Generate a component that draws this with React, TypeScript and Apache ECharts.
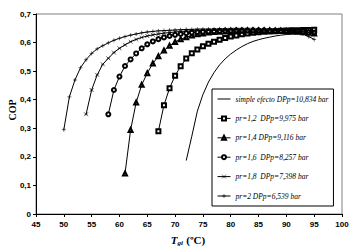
import React, { useEffect, useRef } from 'react';
import * as echarts from 'echarts';

// Generator temperature T_gi (ºC)
const tGi = [50, 51, 52, 53, 54, 55, 56, 57, 58, 59, 60, 61, 62, 63, 64, 65, 66, 67, 68, 69, 70, 71, 72, 73, 74, 75, 76, 77, 78, 79, 80, 81, 82, 83, 84, 85, 86, 87, 88, 89, 90, 91, 92, 93, 94, 95];

const seriesNames = [
  'simple efecto DPp=10,834 bar',
  'pr=1,2  DPp=9,975 bar',
  'pr=1,4 DPp=9,116 bar',
  'pr=1,6  DPp=8,257 bar',
  'pr=1,8  DPp=7,398 bar',
  'pr=2 DPp=6,539 bar',
];

const copSimple = [null, null, null, null, null, null, null, null, null, null, null, null, null, null, null, null, null, null, null, null, null, null,
  0.187, 0.272, 0.36, 0.418, 0.462, 0.495, 0.522, 0.543, 0.56, 0.574, 0.586, 0.596, 0.604, 0.61, 0.615, 0.619, 0.623, 0.626, 0.628, 0.63, 0.632, 0.633, 0.634, 0.635];

const copPr12 = [null, null, null, null, null, null, null, null, null, null, null, null, null, null, null, null, null,
  0.29, 0.381, 0.44, 0.484, 0.517, 0.544, 0.563, 0.576, 0.587, 0.596, 0.603, 0.61, 0.616, 0.621, 0.625, 0.629, 0.632, 0.634, 0.636, 0.638, 0.639, 0.64, 0.641, 0.642, 0.643, 0.643, 0.644, 0.644, 0.645];

const copPr14 = [null, null, null, null, null, null, null, null, null, null, null,
  0.142, 0.294, 0.39, 0.452, 0.493, 0.527, 0.552, 0.572, 0.589, 0.602, 0.612, 0.619, 0.625, 0.629, 0.632, 0.635, 0.637, 0.638, 0.639, 0.64, 0.641, 0.641, 0.642, 0.642, 0.642, 0.642, 0.642, 0.641, 0.641, 0.64, 0.639, 0.638, 0.636, 0.634, 0.632];

const copPr16 = [null, null, null, null, null, null, null, null,
  0.349, 0.434, 0.481, 0.518, 0.541, 0.562, 0.58, 0.594, 0.604, 0.612, 0.618, 0.623, 0.627, 0.63, 0.633, 0.635, 0.637, 0.638, 0.639, 0.64, 0.641, 0.642, 0.642, 0.643, 0.643, 0.643, 0.643, 0.643, 0.643, 0.642, 0.642, 0.641, 0.641, 0.64, 0.639, 0.638, 0.636, 0.634];

const copPr18 = [null, null, null, null,
  0.349, 0.434, 0.487, 0.524, 0.545, 0.565, 0.58, 0.592, 0.603, 0.611, 0.618, 0.623, 0.627, 0.63, 0.633, 0.635, 0.637, 0.639, 0.64, 0.641, 0.642, 0.643, 0.643, 0.644, 0.644, 0.644, 0.645, 0.645, 0.645, 0.645, 0.645, 0.644, 0.644, 0.644, 0.643, 0.643, 0.642, 0.641, 0.64, 0.638, 0.636, 0.633];

const copPr2 = [0.295, 0.41, 0.469, 0.512, 0.54, 0.562, 0.578, 0.589, 0.599, 0.608, 0.615, 0.621, 0.626, 0.63, 0.634, 0.637, 0.639, 0.641, 0.642, 0.643, 0.644, 0.645, 0.646, 0.646, 0.647, 0.647, 0.647, 0.647, 0.648, 0.648, 0.648, 0.648, 0.648, 0.647, 0.647, 0.647, 0.646, 0.646, 0.645, 0.644, 0.642, 0.64, 0.636, 0.63, 0.621, 0.611];

const xTicks = [45, 50, 55, 60, 65, 70, 75, 80, 85, 90, 95, 100];
const yTicks = [0, 0.1, 0.2, 0.3, 0.4, 0.5, 0.6, 0.7];

const plusPath = 'path://M0,5L10,5M5,0L5,10';
const crossPath = 'path://M1,1L9,9M9,1L1,9M2,5L8,5';

const symbols = ['none', 'emptyRect', 'emptyTriangle', 'emptyCircle', crossPath, plusPath];
const allValues = [copSimple, copPr12, copPr14, copPr16, copPr18, copPr2];

function toPairs(vals: (number | null)[]) {
  const out: [number, number][] = [];
  tGi.forEach((t, i) => {
    const v = vals[i];
    if (v !== null && v !== undefined) out.push([t, v]);
  });
  return out;
}

export default function App() {
  const ref = useRef<HTMLDivElement>(null);
  useEffect(() => {
    if (!ref.current) return;
    const chart = echarts.init(ref.current, undefined, { renderer: 'svg' });
    const series = allValues.map((vals, k) => ({
      name: seriesNames[k],
      type: 'line',
      data: toPairs(vals),
      symbol: symbols[k],
      symbolSize: k === 0 ? 0 : 4,
      showSymbol: k !== 0,
      lineStyle: { color: '#000', width: 1 },
      itemStyle: { color: '#000', borderColor: '#000', borderWidth: 0.6 },
      z: 2 + k,
    }));
    chart.setOption({
      animation: false,
      backgroundColor: '#fff',
      grid: {
        left: 36,
        right: 15,
        top: 14,
        bottom: 36,
        show: true,
        borderColor: '#808080',
        borderWidth: 1,
      },
      xAxis: {
        type: 'value',
        min: xTicks[0],
        max: xTicks[xTicks.length - 1],
        interval: 5,
        axisLine: { lineStyle: { color: '#000', width: 1 } },
        axisTick: { show: true, length: 3, lineStyle: { color: '#000' } },
        splitLine: { show: false },
        axisLabel: {
          color: '#000',
          fontSize: 8,
          fontWeight: 'bold',
          fontFamily: 'Liberation Sans',
          margin: 6,
        },
      },
      yAxis: {
        type: 'value',
        min: yTicks[0],
        max: yTicks[yTicks.length - 1],
        interval: 0.1,
        axisLine: { show: true, lineStyle: { color: '#000', width: 1 } },
        axisTick: { show: true, length: 3, lineStyle: { color: '#000' } },
        splitLine: { show: false },
        axisLabel: {
          color: '#000',
          fontSize: 8,
          fontWeight: 'bold',
          fontFamily: 'Liberation Sans',
          margin: 5,
          formatter: (v: number) => (v === 0 ? '0' : v.toFixed(1).replace('.', ',')),
        },
      },
      legend: {
        orient: 'vertical',
        left: 212,
        top: 89,
        borderColor: '#000',
        borderWidth: 1,
        borderRadius: 0,
        padding: [6, 5, 6, 5],
        itemGap: 11.4,
        itemWidth: 13,
        itemHeight: 5,
        backgroundColor: '#fff',
        itemStyle: { borderWidth: 0.6 },
        lineStyle: { width: 1 },
        textStyle: {
          color: '#000',
          fontFamily: 'Liberation Serif',
          fontStyle: 'italic',
          fontSize: 7.5,
        },
        data: seriesNames.map((n, k) => (k === 0 ? { name: n, itemStyle: { opacity: 0 } } : { name: n })),
      },
      graphic: [
        {
          type: 'text',
          x: 12,
          y: 110,
          rotation: Math.PI / 2,
          style: {
            text: 'COP',
            font: 'bold 10px "Liberation Serif"',
            fill: '#000',
            align: 'center',
            verticalAlign: 'middle',
          },
        },
        {
          type: 'text',
          x: 188,
          y: 240,
          style: {
            text: '{t|T}{s|gi} {n|(ºC)}',
            align: 'center',
            verticalAlign: 'middle',
            rich: {
              t: { fontFamily: 'Liberation Serif', fontWeight: 'bold', fontStyle: 'italic', fontSize: 11, fill: '#000' },
              s: { fontFamily: 'Liberation Serif', fontWeight: 'bold', fontStyle: 'italic', fontSize: 7, fill: '#000', verticalAlign: 'bottom', padding: [4, 0, 0, 0] },
              n: { fontFamily: 'Liberation Serif', fontWeight: 'bold', fontSize: 11, fill: '#000' },
            },
          },
        },
      ],
      series,
    });
    return () => chart.dispose();
  }, []);
  return <div ref={ref} style={{ position: 'fixed', left: 0, top: 0, width: 357, height: 250 }} />;
}
